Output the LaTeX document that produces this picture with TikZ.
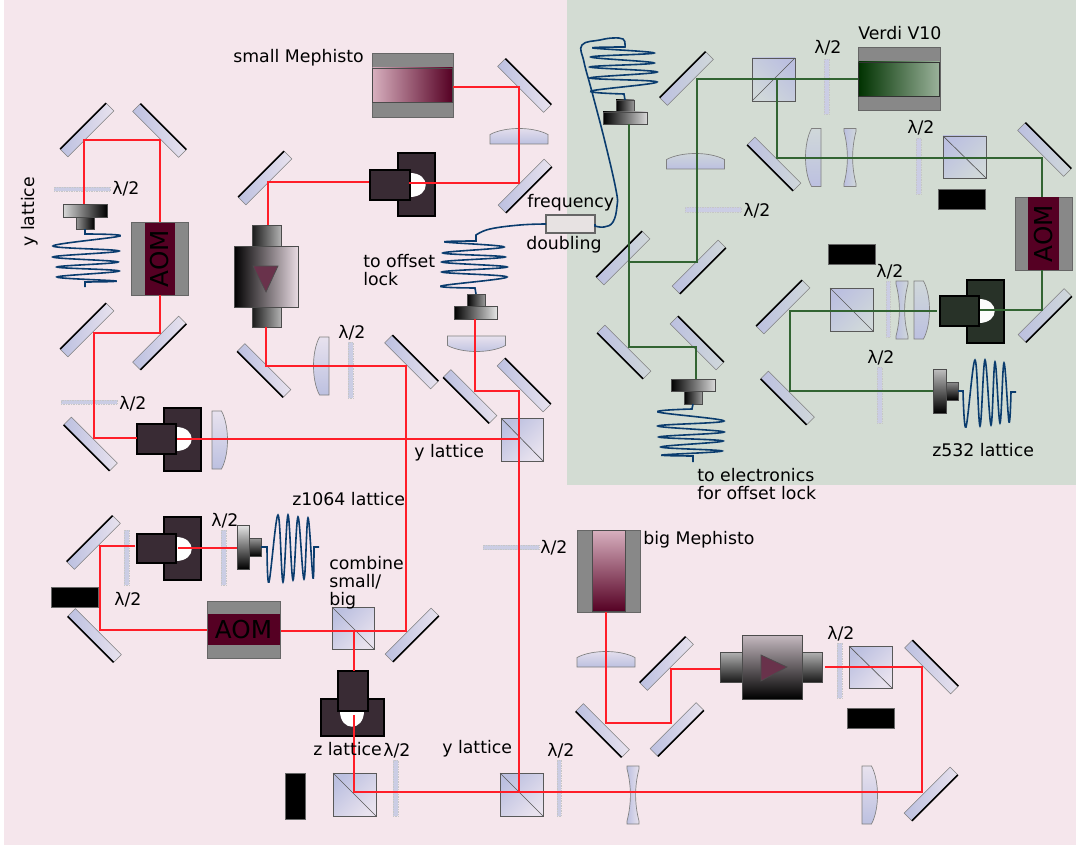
\documentclass[tikz,border=0pt]{standalone}
\usepackage{fontspec}
\setmainfont{DejaVu Sans}
\definecolor{bgpink}{RGB}{245,230,236}
\definecolor{bggreen}{RGB}{211,220,211}
\definecolor{optblue}{RGB}{188,192,224}
\definecolor{palec}{RGB}{232,226,238}
\definecolor{palepink}{RGB}{232,218,226}
\definecolor{maroon}{RGB}{85,0,35}
\definecolor{maroonpale}{RGB}{215,175,190}
\definecolor{frameg}{RGB}{136,136,136}
\definecolor{darkp}{RGB}{57,43,52}
\definecolor{darkg}{RGB}{40,50,40}
\definecolor{redb}{RGB}{255,30,40}
\definecolor{greenb}{RGB}{50,100,50}
\definecolor{fibre}{RGB}{10,60,110}
\definecolor{trifill}{RGB}{105,50,75}
\definecolor{platefill}{RGB}{203,205,228}
\tikzset{
  mirrorbox/.style={draw=gray,line width=.4pt,left color=optblue,right color=palec,minimum width=48.75pt,minimum height=8.25pt,inner sep=0pt,outer sep=0pt},
  mirrorback/.style={line width=1.25pt,black},
  boxbase/.style={inner sep=0pt,outer sep=0pt},
  cubeTL/.style={boxbase,draw=black!65,line width=.5pt,top color=optblue,bottom color=palec,shading angle=45},
  cubeBL/.style={boxbase,draw=black!65,line width=.5pt,top color=optblue,bottom color=palec,shading angle=-45},
  cubediag/.style={black!65,line width=.5pt},
  plate/.style={boxbase,fill=platefill,draw=gray!45,densely dotted,line width=.25pt},
  blocker/.style={boxbase,fill=black,draw=black!60,line width=.3pt},
  frameb/.style={boxbase,fill=frameg,draw=black!60,line width=.5pt},
  aomcore/.style={boxbase,fill=maroon},
  aomtext/.style={inner sep=0pt,font=\fontsize{18.5}{20}\selectfont,text=black},
  darkbox/.style={boxbase,fill=darkp,draw=black,line width=.8pt},
  darkgbox/.style={boxbase,fill=darkg,draw=black,line width=.8pt},
  lensbody/.style={draw=gray,line width=.5pt,top color=palec,bottom color=optblue},
  tobx/.style={boxbase,draw=black!70,line width=.6pt},
  tri/.style={fill=trifill,draw=black!70,line width=.5pt},
  redbeam/.style={redb,line width=1.1pt},
  greenbeam/.style={greenb,line width=1.1pt},
  fibreline/.style={fibre,line width=1.2pt},
  lbl/.style={inner sep=0pt,anchor=base west,font=\fontsize{13}{13.2}\selectfont,text=black},
  mlbl/.style={lbl,align=left},
  lam/.style={lbl}
}
\newcommand{\rectN}[6]{\node[#2,minimum width={(#5-(#3))*0.75pt},minimum height={(#6-(#4))*0.75pt}] (#1) at ({(#3+#5)/2},{(#4+#6)/2}) {};}
\newcommand{\mirr}[4]{\node[mirrorbox,rotate=#4] (#1) at (#2,#3) {};\draw[mirrorback] (#1.north west) -- (#1.north east);}
\newcommand{\cubeA}[5]{\rectN{#1}{cubeTL}{#2}{#3}{#4}{#5}\draw[cubediag] (#1.north west) -- (#1.south east);}
\newcommand{\cubeB}[5]{\rectN{#1}{cubeBL}{#2}{#3}{#4}{#5}\draw[cubediag] (#1.south west) -- (#1.north east);}
\newcommand{\lensPC}[4]{\begin{scope}[shift={(#2,#3)},rotate=#4]\coordinate (#1) at (0,0);\path[lensbody] (-29,7.5) -- (-29,-2) .. controls (-14,-10) and (14,-10) .. (29,-2) -- (29,7.5) -- cycle;\end{scope}}
\newcommand{\lensBC}[3]{\begin{scope}[shift={(#2,#3)}]\coordinate (#1) at (0,0);\path[draw=gray,line width=.5pt,left color=optblue,right color=palec] (-6,-29) -- (6,-29) -- (6,-26) .. controls (1.5,-9) and (1.5,9) .. (6,26) -- (6,29) -- (-6,29) -- (-6,26) .. controls (-1.5,9) and (-1.5,-9) .. (-6,-26) -- cycle;\end{scope}}
\begin{document}
\begin{tikzpicture}[x=0.75pt,y=-0.75pt]
\useasboundingbox (0,0) rectangle (1076,849);
\fill[white] (0,0) rectangle (1076,849);
\fill[bgpink] (4,0) rectangle (1076,845);
\fill[bggreen] (567,0) rectangle (1076,485);

% ---------- mirrors, pink area
\mirr{mA}{87}{130}{45}
\mirr{mB}{159.5}{130.5}{-45}
\mirr{mC}{265}{178}{45}
\mirr{mD}{87}{330}{45}
\mirr{mE}{159.5}{343}{-135}
\mirr{mF}{264}{370.5}{135}
\mirr{mG}{411.5}{362}{-45}
\mirr{mH}{90.5}{444}{135}
\mirr{mI}{524.5}{85.5}{-45}
\mirr{mJ}{525}{186}{-135}
\mirr{mK}{524}{385}{-45}
\mirr{mL}{470}{396.5}{135}
\mirr{mM}{93.5}{542.5}{45}
\mirr{mN}{94.5}{635.5}{135}
\mirr{mO}{412}{635}{-135}
\mirr{mP}{666.5}{663.5}{45}
\mirr{mQ}{602.5}{730.5}{135}
\mirr{mR}{677}{729.5}{-135}
\mirr{mS}{931.5}{667}{-45}
\mirr{mT}{931}{794}{-135}

% ---------- cubes, pink area
\cubeA{cA}{501}{418}{543}{461}
\cubeA{cB}{332}{607}{374}{649}
\cubeA{cC}{333}{773}{376}{816}
\cubeA{cD}{500}{773}{543}{816}
\cubeA{cE}{849}{646}{892}{688}

% ---------- lenses, pink area
\lensPC{lA}{519}{136.5}{0}
\lensPC{lB}{606}{659.5}{0}
\lensPC{lC}{476.5}{343.5}{180}
\lensPC{lD}{321.5}{366}{90}
\lensPC{lE}{219.5}{440}{-90}
\lensPC{lF}{869.5}{795}{-90}
\lensBC{lG}{633}{795}

% ---------- half-wave plates, pink area
\rectN{pA}{plate}{54}{187}{110}{191.5}
\rectN{pB}{plate}{61}{400}{117}{404}
\rectN{pC}{plate}{483}{545}{539}{549.5}
\rectN{pD}{plate}{348}{342}{353}{398}
\rectN{pE}{plate}{124}{530}{129}{585}
\rectN{pF}{plate}{221}{530}{226}{585}
\rectN{pG}{plate}{393}{760}{398}{816}
\rectN{pH}{plate}{557}{760}{561}{816}
\rectN{pI}{plate}{837}{643}{842}{698}

% ---------- beam dumps
\rectN{bA}{blocker}{51}{587}{98}{607}
\rectN{bB}{blocker}{285}{773}{305}{819}
\rectN{bC}{blocker}{847}{708}{894}{728}

% ---------- green-area optics use a cooler pale tone
\definecolor{palec}{RGB}{208,216,218}
\mirr{mU}{686.5}{78.5}{45}
\mirr{mV}{774}{164}{135}
\mirr{mW}{623}{258}{45}
\mirr{mX}{699}{267}{-135}
\mirr{mY}{624}{352}{135}
\mirr{mZ}{697}{343}{-45}
\mirr{mAA}{783}{307}{45}
\mirr{mAB}{787.5}{398}{135}
\mirr{mAC}{1044.5}{149.5}{-45}
\mirr{mAD}{1045}{315.5}{-135}
\cubeB{cF}{752}{58}{795}{101}
\cubeA{cG}{943}{136}{986}{178}
\cubeA{cH}{830}{288}{873}{331}
\lensPC{lH}{695.5}{161.5}{0}
\lensPC{lI}{813.5}{157.5}{90}
\lensPC{lJ}{921.5}{310}{-90}
\lensBC{lK}{850}{157.5}
\lensBC{lL}{902}{310}
\rectN{pJ}{plate}{685}{207}{741}{212}
\rectN{pK}{plate}{824}{59}{829}{114}
\rectN{pL}{plate}{916}{138}{921}{194}
\rectN{pM}{plate}{886}{281}{890}{337}
\rectN{pN}{plate}{877}{367}{882}{423}
\rectN{bD}{blocker}{938}{189}{985}{209}
\rectN{bE}{blocker}{828}{244}{875}{264}

% ---------- AOMs
\rectN{aomYf}{frameb}{131}{222}{188}{295}
\rectN{aomYc}{aomcore}{145}{222.5}{175}{294.5}
\node[aomtext,rotate=90] (aomYt) at (aomYc) {AOM};
\rectN{aomGf}{frameb}{1015}{197}{1072}{270}
\rectN{aomGc}{aomcore}{1028}{197.5}{1059}{269.5}
\node[aomtext,rotate=90] (aomGt) at (aomGc) {AOM};
\rectN{aomZf}{frameb}{207}{601}{280}{658}
\rectN{aomZc}{aomcore}{207.5}{614}{279.5}{645}
\node[aomtext] (aomZt) at (aomZc) {AOM};

% ---------- lasers
\rectN{laSf}{frameb}{372}{53}{453}{117}
\rectN{laSc}{boxbase,draw=black!70,line width=.5pt,left color=maroonpale,right color=maroon}{372.5}{68}{452.5}{102}
\rectN{laBf}{frameb}{577}{530}{640}{612}
\rectN{laBc}{boxbase,draw=black!70,line width=.5pt,top color=maroonpale,bottom color=maroon}{592}{530.5}{625}{611.5}
\rectN{laVf}{frameb}{858}{47}{940}{110}
\rectN{laVc}{boxbase,draw=black!80,line width=.5pt,left color={rgb,255:red,0;green,50;blue,0},right color={rgb,255:red,155;green,178;blue,155}}{858.5}{62}{939.5}{96}

% ---------- Faraday isolators
\rectN{isoAu}{tobx,left color=black!90,right color=black!30}{252}{225}{281}{246}
\rectN{isoAd}{tobx,left color=black!90,right color=black!30}{252}{307}{281}{327}
\rectN{isoAm}{tobx,left color=black,right color=palepink}{234}{246}{298}{307}
\path[tri] (253,266) -- (278,266) -- (266,292) -- cycle;
\rectN{isoBl}{tobx,top color=black!30,bottom color=black!90}{720}{652}{742}{682}
\rectN{isoBr}{tobx,top color=black!30,bottom color=black!90}{802}{652}{822}{682}
\rectN{isoBm}{tobx,top color=palepink!85!black,bottom color=black}{742}{635}{802}{699}
\path[tri] (761,655) -- (761,681) -- (787,667) -- cycle;

% ---------- fibre couplers
\rectN{colAf}{tobx,left color=black!15,right color=black}{63}{204}{107}{217}
\rectN{colAs}{tobx,left color=black!40,right color=black}{76}{217}{94}{229}
\rectN{colBs}{tobx,left color=black,right color=black!40}{467}{294}{485}{306}
\rectN{colBf}{tobx,left color=black,right color=black!10}{454}{306}{497}{319}
\rectN{colCs}{tobx,left color=black,right color=black!40}{616}{100}{634}{112}
\rectN{colCf}{tobx,left color=black,right color=black!15}{603}{112}{647}{124}
\rectN{colDf}{tobx,left color=black,right color=black!15}{671}{379}{715}{391}
\rectN{colDs}{tobx,left color=black,right color=black!40}{684}{391}{702}{404}
\rectN{colEf}{tobx,top color=black!10,bottom color=black}{237}{525}{249}{569}
\rectN{colEs}{tobx,top color=black!40,bottom color=black}{249}{538}{261}{556}
\rectN{colFf}{tobx,top color=black!25,bottom color=black}{933}{369}{946}{413}
\rectN{colFs}{tobx,top color=black!45,bottom color=black}{946}{382}{958}{400}

% ---------- dark acousto/optical units
\rectN{duAb}{darkbox}{164}{408}{201}{471}
\fill[white] (176,427) .. controls (197,427) and (197,451) .. (176,451) -- cycle;
\rectN{duAf}{darkbox}{137}{424}{176}{454}
\rectN{duBb}{darkbox}{398}{153}{435}{216}
\fill[white] (410,173) .. controls (431,173) and (431,197) .. (410,197) -- cycle;
\rectN{duBf}{darkbox}{370}{170}{410}{200}
\rectN{duCb}{darkbox}{164}{517}{201}{580}
\fill[white] (176,537) .. controls (197,537) and (197,561) .. (176,561) -- cycle;
\rectN{duCf}{darkbox}{137}{534}{176}{563}
\rectN{duDb}{darkbox}{321}{699}{384}{736}
\fill[white] (340,711) .. controls (340,732) and (364,732) .. (364,711) -- cycle;
\rectN{duDf}{darkbox}{338}{671}{368}{711}
\rectN{duEb}{darkgbox}{967}{280}{1004}{343}
\fill[white!92!bggreen] (979,299) .. controls (1000,299) and (1000,323) .. (979,323) -- cycle;
\rectN{duEf}{darkgbox}{940}{296}{979}{326}

% ---------- frequency doubler
\rectN{fd}{boxbase,fill=bggreen!40!bgpink,draw=black!60,line width=.8pt}{546}{215}{595}{233}

% ---------- beam corner points
\coordinate (r1a) at (84,204);\coordinate (r1b) at (84,140);\coordinate (r1c) at (160,140);\coordinate (r1d) at (160,222);
\coordinate (r2a) at (160,295);\coordinate (r2b) at (160,333);\coordinate (r2c) at (94,333);\coordinate (r2d) at (94,438);\coordinate (r2e) at (137,438);
\coordinate (r3a) at (177,439);\coordinate (r3b) at (519,439);
\coordinate (r4a) at (475,319);\coordinate (r4b) at (475,391);\coordinate (r4c) at (519,391);\coordinate (r4d) at (519,793);
\coordinate (r5a) at (453,87);\coordinate (r5b) at (519,87);\coordinate (r5c) at (519,183);\coordinate (r5d) at (409,183);
\coordinate (r6a) at (369,182);\coordinate (r6b) at (268,182);\coordinate (r6c) at (268,225);
\coordinate (r7a) at (266,327);\coordinate (r7b) at (266,366);\coordinate (r7c) at (406,366);\coordinate (r7d) at (406,631);\coordinate (r7e) at (281,631);
\coordinate (r8a) at (354,631);\coordinate (r8b) at (354,671);
\coordinate (r9a) at (207,630);\coordinate (r9b) at (100,630);\coordinate (r9c) at (100,546);\coordinate (r9d) at (135,546);
\coordinate (r10a) at (178,548);\coordinate (r10b) at (237,548);
\coordinate (r11a) at (354,715);\coordinate (r11b) at (354,792);\coordinate (r11c) at (922,792);\coordinate (r11d) at (922,667);\coordinate (r11e) at (825,667);
\coordinate (r12a) at (606,612);\coordinate (r12b) at (606,723);\coordinate (r12c) at (671,723);\coordinate (r12d) at (671,669);\coordinate (r12e) at (720,669);
\coordinate (g1a) at (933,391);\coordinate (g1b) at (790,391);\coordinate (g1c) at (790,311);\coordinate (g1d) at (937,311);
\coordinate (g2a) at (980,310);\coordinate (g2b) at (1042,310);\coordinate (g2c) at (1042,270);
\coordinate (g3a) at (1042,197);\coordinate (g3b) at (1042,158);\coordinate (g3c) at (777,158);\coordinate (g3d) at (777,79);
\coordinate (g4a) at (629,124);\coordinate (g4b) at (629,347);\coordinate (g4c) at (696,347);\coordinate (g4d) at (696,379);
\coordinate (g5a) at (858,79);\coordinate (g5b) at (697,79);\coordinate (g5c) at (697,262);\coordinate (g5d) at (629,262);

% ---------- beams
\draw[redbeam] (r1a) -- (r1b) -- (r1c) -- (r1d);
\draw[redbeam] (r2a) -- (r2b) -- (r2c) -- (r2d) -- (r2e);
\draw[redbeam] (r3a) -- (r3b);
\draw[redbeam] (r4a) -- (r4b) -- (r4c) -- (r4d);
\draw[redbeam] (r5a) -- (r5b) -- (r5c) -- (r5d);
\draw[redbeam] (r6a) -- (r6b) -- (r6c);
\draw[redbeam] (r7a) -- (r7b) -- (r7c) -- (r7d) -- (r7e);
\draw[redbeam] (r8a) -- (r8b);
\draw[redbeam] (r9a) -- (r9b) -- (r9c) -- (r9d);
\draw[redbeam] (r10a) -- (r10b);
\draw[redbeam] (r11a) -- (r11b) -- (r11c) -- (r11d) -- (r11e);
\draw[redbeam] (r12a) -- (r12b) -- (r12c) -- (r12d) -- (r12e);
\draw[greenbeam] (g1a) -- (g1b) -- (g1c) -- (g1d);
\draw[greenbeam] (g2a) -- (g2b) -- (g2c);
\draw[greenbeam] (g3a) -- (g3b) -- (g3c) -- (g3d);
\draw[greenbeam] (g4a) -- (g4b) -- (g4c) -- (g4d);
\draw[greenbeam] (g5a) -- (g5b) -- (g5c) -- (g5d);

% ---------- fibres
\draw[fibreline] (colAs.south) -- (85,234) -- plot[smooth,tension=.6] coordinates {(85,234) (120,236) (53,246) (119,251) (53,257) (118,262) (57,267) (119,271) (57,277) (116,281) (85,282)} -- (85,287);
\draw[fibreline] (fd.west) -- plot[smooth,tension=.7] coordinates {(546,224) (520,225) (490,229) (476,235)} -- (476,241) -- plot[smooth,tension=.6] coordinates {(476,241) (445,242) (504,247) (443,253) (505,257) (442,262) (507,267) (442,272) (507,277) (441,286) (475,288)} -- (colBs.north);
\draw[fibreline] (fd.east) -- plot[smooth,tension=.7] coordinates {(595,226) (604,227) (613,222) (617,206) (616,190) (605,142) (592,92) (584,62) (582,45) (600,40) (613,38) (623,39) (625,44) (625,47)} -- plot[smooth,tension=.6] coordinates {(625,47) (593,48) (654,53) (591,57) (654,63) (590,67) (657,72) (590,78) (657,82) (591,91) (624,94)} -- (colCs.north);
\draw[fibreline] (colDs.south) -- (692,409) -- plot[smooth,tension=.6] coordinates {(692,409) (658,412) (724,421) (658,426) (724,432) (659,437) (723,441) (661,447) (722,451) (662,455) (693,456)} -- (693,462);
\draw[fibreline] (colEs.east) -- (267,547) -- plot[smooth,tension=.6] coordinates {(267,547) (269,582) (278,515) (283,582) (288,515) (293,580) (298,517) (304,579) (308,518) (313,578) (314,547)} -- (319,547);
\draw[fibreline] (colFs.east) -- (963,391) -- plot[smooth,tension=.6] coordinates {(963,391) (966,427) (975,360) (980,426) (985,360) (991,425) (995,362) (1000,423) (1004,363) (1009,422) (1011,392)} -- (1016,392);

% ---------- labels
\node[lbl] (tSM) at (233,63) {small Mephisto};
\node[lbl] (tV) at (858,40) {Verdi V10};
\node[lbl,rotate=90] (tYL) at (35,247) {y lattice};
\node[mlbl,anchor=north west] (tOL) at (363,254.5) {to offset\\lock};
\node[lbl] (tFq) at (527,208) {frequency};
\node[lbl] (tDb) at (526,249) {doubling};
\node[lbl] (tYa) at (414,457) {y lattice};
\node[lbl] (tZ1) at (292,505) {z1064 lattice};
\node[mlbl,anchor=north west] (tCo) at (329,556.5) {combine\\small/\\big};
\node[lbl] (tZL) at (313,755) {z lattice};
\node[lbl] (tYb) at (442,753) {y lattice};
\node[lbl] (tBM) at (643,544) {big Mephisto};
\node[mlbl,anchor=north west] (tEl) at (697,468.5) {to electronics\\for offset lock};
\node[lbl] (tZ5) at (932,456) {z532 lattice};
\node[lam] (h1) at (112,195) {λ/2};
\node[lam] (h2) at (119,409) {λ/2};
\node[lam] (h3) at (540,553) {λ/2};
\node[lam] (h4) at (743,216) {λ/2};
\node[lam] (h5) at (338,338) {λ/2};
\node[lam] (h6) at (814,54) {λ/2};
\node[lam] (h7) at (907,134) {λ/2};
\node[lam] (h8) at (876,277) {λ/2};
\node[lam] (h9) at (867,363) {λ/2};
\node[lam] (h10) at (114,605) {λ/2};
\node[lam] (h11) at (211,526) {λ/2};
\node[lam] (h12) at (383,756) {λ/2};
\node[lam] (h13) at (547,756) {λ/2};
\node[lam] (h14) at (827,639) {λ/2};
\end{tikzpicture}
\end{document}
